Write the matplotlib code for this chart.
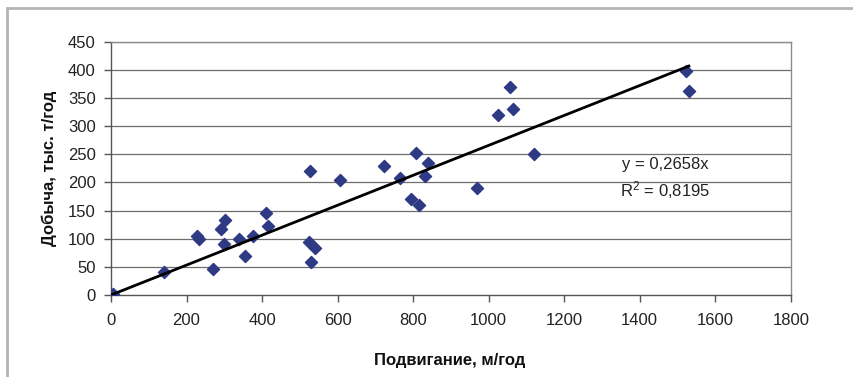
import matplotlib
matplotlib.use('Agg')
import matplotlib.pyplot as plt
from matplotlib.patches import Rectangle
import numpy as np

# подвигание, м/год
advance = [6, 141, 227, 232, 269, 291, 303, 299, 340, 354, 376, 411, 416,
           526, 524, 539, 530, 605, 723, 764, 808, 840, 832, 794, 816,
           970, 1121, 1025, 1057, 1064, 1522, 1530]
# добыча, тыс. т/год
output = [1, 41, 105, 99, 47, 117, 134, 90, 99, 69, 105, 145, 123,
          220, 95, 84, 59, 205, 230, 208, 253, 235, 212, 170, 160,
          190, 250, 320, 369, 330, 398, 362]

slope = 0.2658
r2 = 0.8195

x_ticks = [0, 200, 400, 600, 800, 1000, 1200, 1400, 1600, 1800]
y_ticks = [0, 50, 100, 150, 200, 250, 300, 350, 400, 450]

plt.rcParams['font.family'] = ['Liberation Sans', 'DejaVu Sans']

fig = plt.figure(figsize=(8.54, 3.77), dpi=100)
ax = fig.add_axes([0.130, 0.2175, 0.796, 0.672])

# grey frame like in the excel export
frame = Rectangle((7 / 854, -0.05), 1.0, 1.0 - 8 / 377 + 0.05,
                  transform=fig.transFigure, fill=False,
                  edgecolor='#b4b4b4', linewidth=2.0, clip_on=False)
fig.patches.append(frame)

ax.set_xlim(0, 1800)
ax.set_ylim(0, 450)
ax.set_xticks(x_ticks)
ax.set_yticks(y_ticks)

for yv in y_ticks[1:]:
    ax.axhline(yv, color='#6e6e6e', linewidth=0.9, zorder=1)

ax.scatter(advance, output, marker='D', s=38, color='#2f3a85',
           edgecolors='#2f3a85', zorder=3)

xs = np.array([0, max(advance)])
ax.plot(xs, slope * xs, color='black', linewidth=2.0, zorder=4)

ax.text(1467, 231, 'y = ' + f'{slope}'.replace('.', ',') + 'x', fontsize=12,
        ha='center', va='center', color='#222222')
ax.text(1467, 187, '$\\mathregular{R^2}$ = ' + f'{r2}'.replace('.', ','),
        fontsize=12, ha='center', va='center', color='#222222')

for side in ['top', 'right']:
    ax.spines[side].set_color('#8c8c8c')
ax.spines['left'].set_color('#555555')
ax.spines['bottom'].set_color('#555555')
for sp in ax.spines.values():
    sp.set_linewidth(1.0)

ax.tick_params(axis='both', direction='out', length=5, width=1,
               color='#555555', labelsize=12, labelcolor='#222222')
ax.tick_params(axis='x', pad=8)
ax.tick_params(axis='y', pad=6)

ax.set_xlabel('Подвигание, м/год', fontsize=12, fontweight='bold', color='#111111')
ax.set_ylabel('Добыча, тыс. т/год', fontsize=12, fontweight='bold', color='#111111')
ax.xaxis.set_label_coords(0.498, -0.228)
ax.yaxis.set_label_coords(-0.08, 0.5)

fig.savefig('out.png', dpi=100)
